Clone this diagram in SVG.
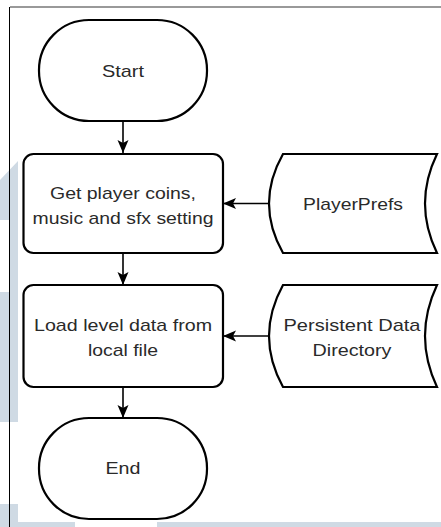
<svg xmlns="http://www.w3.org/2000/svg" width="441" height="527" viewBox="0 0 441 527">
  <style>
    .shape { fill: #ffffff; stroke: #000000; stroke-width: 2.2; }
    .edge { fill: none; stroke: #000000; stroke-width: 1.6; }
    .label { font-family: "Liberation Sans", Arial, Helvetica, sans-serif; font-size: 17px; fill: #2a2a2a; text-anchor: middle; }
    .wm { fill: #cfdae4; stroke: none; }
  </style>
  <defs>
    <marker id="arrow" markerUnits="userSpaceOnUse" markerWidth="14" markerHeight="12" refX="13" refY="5.5" orient="auto">
      <path d="M0,0 L13,5.5 L0,11 L3,5.5 Z" fill="#000000"/>
    </marker>
  </defs>

  <rect x="0" y="0" width="441" height="527" fill="#ffffff"/>

  <!-- background watermark -->
  <g id="background">
    <polygon class="wm" points="0,180 18,161 18,422 0,422 0,292 10,292 10,220 0,220"/>
    <rect class="wm" x="0" y="504" width="18" height="23"/>
    <rect class="wm" x="18" y="522" width="57" height="5"/>
    <rect class="wm" x="157" y="522" width="284" height="5"/>
    <line x1="10" y1="7" x2="441" y2="7" stroke="#777777" stroke-width="1.5"/>
    <line x1="9.5" y1="7" x2="9.5" y2="527" stroke="#000000" stroke-width="1"/>
  </g>

  <g id="connectors">
    <line class="edge" x1="123" y1="121" x2="123" y2="153" marker-end="url(#arrow)"/>
    <line class="edge" x1="123" y1="253" x2="123" y2="285" marker-end="url(#arrow)"/>
    <line class="edge" x1="123" y1="387" x2="123" y2="418" marker-end="url(#arrow)"/>
    <line class="edge" x1="269" y1="203.5" x2="223" y2="203.5" marker-end="url(#arrow)"/>
    <line class="edge" x1="269" y1="336" x2="223" y2="336" marker-end="url(#arrow)"/>
  </g>

  <g id="start">
    <rect class="shape" x="39" y="20" width="168" height="101" rx="50" ry="50"/>
    <text class="label" x="123" y="77" textLength="42" lengthAdjust="spacingAndGlyphs">Start</text>
  </g>

  <g id="get-settings">
    <rect class="shape" x="23.5" y="154" width="199.5" height="99" rx="10" ry="10"/>
    <text class="label" x="123" y="199" textLength="146" lengthAdjust="spacingAndGlyphs">Get player coins,</text>
    <text class="label" x="123" y="223.5" textLength="181" lengthAdjust="spacingAndGlyphs">music and sfx setting</text>
  </g>

  <g id="playerprefs">
    <path class="shape" d="M283,154 L437,154 Q413,203.5 437,253 L283,253 Q255,203.5 283,154 Z"/>
    <text class="label" x="353" y="209.5" textLength="100" lengthAdjust="spacingAndGlyphs">PlayerPrefs</text>
  </g>

  <g id="load-level">
    <rect class="shape" x="23.5" y="285" width="199.5" height="102" rx="10" ry="10"/>
    <text class="label" x="123" y="331" textLength="178" lengthAdjust="spacingAndGlyphs">Load level data from</text>
    <text class="label" x="123" y="355.5" textLength="70" lengthAdjust="spacingAndGlyphs">local file</text>
  </g>

  <g id="persistent-data">
    <path class="shape" d="M283,285 L437,285 Q413,336 437,387 L283,387 Q255,336 283,285 Z"/>
    <text class="label" x="352" y="331" textLength="137" lengthAdjust="spacingAndGlyphs">Persistent Data</text>
    <text class="label" x="352" y="355.5" textLength="79" lengthAdjust="spacingAndGlyphs">Directory</text>
  </g>

  <g id="end">
    <rect class="shape" x="39" y="418" width="168" height="101" rx="50" ry="50"/>
    <text class="label" x="123" y="474" textLength="35" lengthAdjust="spacingAndGlyphs">End</text>
  </g>
</svg>
